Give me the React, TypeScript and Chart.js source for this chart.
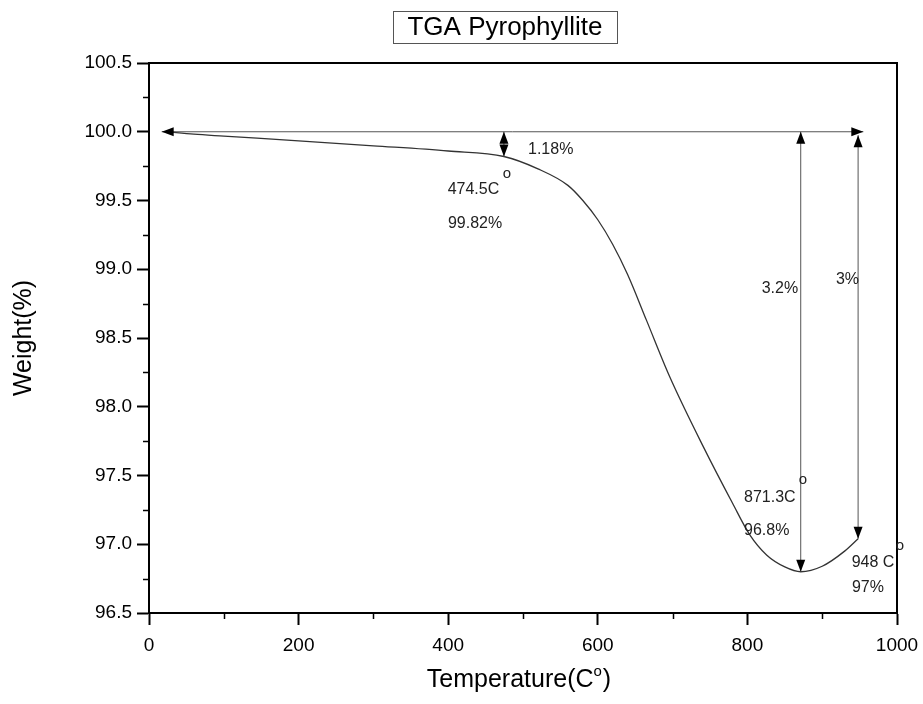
import React, { useEffect, useRef } from "react";
import { Chart, registerables } from "chart.js";

Chart.register(...registerables);

// ---- data ----
const temperatures = [25, 60, 100, 200, 300, 400, 474.5, 520, 560, 580, 600, 620, 640, 665, 696, 741, 780, 803, 826, 850, 871.3, 900, 930, 948];
const weights = [100.0, 99.982, 99.968, 99.934, 99.898, 99.86, 99.82, 99.73, 99.61, 99.5, 99.36, 99.18, 98.96, 98.63, 98.22, 97.71, 97.3, 97.07, 96.92, 96.835, 96.8, 96.84, 96.95, 97.04];

const xMajorTicks = [0, 200, 400, 600, 800, 1000];
const xMinorTicks = [100, 300, 500, 700, 900];
const yMajorTicks = [96.5, 97.0, 97.5, 98.0, 98.5, 99.0, 99.5, 100.0, 100.5];
const yMinorTicks = [96.75, 97.25, 97.75, 98.25, 98.75, 99.25, 99.75, 100.25];

const chartTitle = "TGA Pyrophyllite";
const xTitle = "Temperature(C";
const yTitle = "Weight(%)";

// horizontal reference arrow (double headed) at 100 %
const hArrowFrom = [17, 100.0];
const hArrowTo = [955, 100.0];
// vertical double-headed arrows: temperature, top weight, bottom weight
const vArrowTemps = [474.5, 871.3, 948];
const vArrowTops = [100.0, 100.0, 99.975];
const vArrowBottoms = [99.82, 96.8, 97.04];

// annotation labels: text, temperature, weight (anchor = left baseline)
const labelTexts = ["1.18%", "474.5C", "99.82%", "3.2%", "3%", "871.3C", "96.8%", "948 C", "97%"];
const labelTemps = [506.7, 399.3, 399.7, 819.1, 918.4, 795.5, 795.5, 939.4, 939.8];
const labelWeights = [99.836, 99.547, 99.3, 98.83, 98.89, 97.31, 97.07, 96.837, 96.655];
// small degree "o" marks
const degTemps = [478.6, 874.3, 1004];
const degWeights = [99.685, 97.46, 96.98];

const FONT = '"Liberation Sans", Arial, Helvetica, sans-serif';

function drawHead(ctx: CanvasRenderingContext2D, tx: number, ty: number, fx: number, fy: number) {
  const ang = Math.atan2(ty - fy, tx - fx);
  const len = 12;
  const hw = 4.5;
  ctx.beginPath();
  ctx.moveTo(tx, ty);
  ctx.lineTo(tx - len * Math.cos(ang) + hw * Math.sin(ang), ty - len * Math.sin(ang) - hw * Math.cos(ang));
  ctx.lineTo(tx - len * Math.cos(ang) - hw * Math.sin(ang), ty - len * Math.sin(ang) + hw * Math.cos(ang));
  ctx.closePath();
  ctx.fill();
}

function drawArrow(ctx: CanvasRenderingContext2D, x1: number, y1: number, x2: number, y2: number) {
  ctx.beginPath();
  ctx.moveTo(x1, y1);
  ctx.lineTo(x2, y2);
  ctx.stroke();
  drawHead(ctx, x1, y1, x2, y2);
  drawHead(ctx, x2, y2, x1, y1);
}

const decorPlugin = {
  id: "decor",
  afterDraw(chart: any) {
    const { ctx, chartArea: a, scales } = chart;
    const x = scales.x;
    const y = scales.y;
    ctx.save();

    // frame
    ctx.strokeStyle = "#000";
    ctx.lineWidth = 2;
    ctx.strokeRect(a.left, a.top, a.right - a.left, a.bottom - a.top);

    // minor ticks
    ctx.lineWidth = 1.5;
    ctx.beginPath();
    xMinorTicks.forEach((v) => {
      const px = Math.round(x.getPixelForValue(v)) + 0.5;
      ctx.moveTo(px, a.bottom);
      ctx.lineTo(px, a.bottom + 6);
    });
    yMinorTicks.forEach((v) => {
      const py = Math.round(y.getPixelForValue(v)) + 0.5;
      ctx.moveTo(a.left, py);
      ctx.lineTo(a.left - 6, py);
    });
    ctx.stroke();

    // arrows
    ctx.strokeStyle = "#555";
    ctx.fillStyle = "#000";
    ctx.lineWidth = 1;
    drawArrow(
      ctx,
      x.getPixelForValue(hArrowFrom[0]), y.getPixelForValue(hArrowFrom[1]),
      x.getPixelForValue(hArrowTo[0]), y.getPixelForValue(hArrowTo[1])
    );
    vArrowTemps.forEach((t, i) => {
      const px = x.getPixelForValue(t);
      drawArrow(ctx, px, y.getPixelForValue(vArrowTops[i]), px, y.getPixelForValue(vArrowBottoms[i]));
    });

    // annotation labels
    ctx.fillStyle = "#222";
    ctx.font = `16px ${FONT}`;
    ctx.textAlign = "left";
    ctx.textBaseline = "alphabetic";
    labelTexts.forEach((s, i) => {
      ctx.fillText(s, x.getPixelForValue(labelTemps[i]), y.getPixelForValue(labelWeights[i]));
    });
    ctx.textAlign = "center";
    ctx.textBaseline = "middle";
    ctx.font = `15px ${FONT}`;
    degTemps.forEach((t, i) => {
      ctx.fillText("o", x.getPixelForValue(t), y.getPixelForValue(degWeights[i]) - 1);
    });

    // chart title in box
    ctx.fillStyle = "#000";
    ctx.font = `26px ${FONT}`;
    ctx.textAlign = "center";
    ctx.textBaseline = "middle";
    const cx = 505;
    ctx.fillText(chartTitle, cx, 28);
    ctx.strokeStyle = "#555";
    ctx.lineWidth = 1;
    ctx.strokeRect(393.5, 11.5, 224, 32);

    // x title with superscript
    ctx.textAlign = "left";
    ctx.textBaseline = "alphabetic";
    ctx.font = `25px ${FONT}`;
    const w1 = ctx.measureText(xTitle).width;
    ctx.font = `15px ${FONT}`;
    const w2 = ctx.measureText("o").width;
    ctx.font = `25px ${FONT}`;
    const w3 = ctx.measureText(")").width;
    const total = w1 + w2 + w3 + 1;
    const xc = (a.left + a.right) / 2 - 4;
    let sx = xc - total / 2;
    const base = 687;
    ctx.fillText(xTitle, sx, base);
    sx += w1;
    ctx.font = `15px ${FONT}`;
    ctx.fillText("o", sx, base - 11);
    sx += w2 + 1;
    ctx.font = `25px ${FONT}`;
    ctx.fillText(")", sx, base);

    // y title
    ctx.save();
    ctx.translate(24, (a.top + a.bottom) / 2);
    ctx.rotate(-Math.PI / 2);
    ctx.textAlign = "center";
    ctx.textBaseline = "middle";
    ctx.font = `25px ${FONT}`;
    ctx.fillText(yTitle, 0, 0);
    ctx.restore();

    ctx.restore();
  },
};

export default function App() {
  const ref = useRef<HTMLCanvasElement | null>(null);
  useEffect(() => {
    if (!ref.current) return;
    const points = temperatures.map((t, i) => ({ x: t, y: weights[i] }));
    const chart = new Chart(ref.current, {
      type: "scatter",
      data: {
        datasets: [
          {
            data: points,
            showLine: true,
            borderColor: "#333",
            borderWidth: 1.3,
            pointRadius: 0,
            cubicInterpolationMode: "monotone",
            fill: false,
          },
        ],
      },
      options: {
        responsive: false,
        animation: false,
        devicePixelRatio: 1,
        layout: { padding: { top: 63, right: 26, left: 0, bottom: 0 } },
        plugins: { legend: { display: false }, tooltip: { enabled: false } },
        scales: {
          x: {
            type: "linear",
            min: 0,
            max: 1000,
            afterFit: (s: any) => { s.height = 91; s.paddingLeft = 0; s.paddingRight = 0; },
            afterBuildTicks: (s: any) => { s.ticks = xMajorTicks.map((v) => ({ value: v })); },
            ticks: {
              color: "#000",
              font: { family: FONT, size: 19 },
              padding: 9,
              maxRotation: 0,
              callback: (v: any) => String(v),
            },
            grid: { drawOnChartArea: false, drawTicks: true, tickLength: 12, tickWidth: 2, tickColor: "#000" },
            border: { display: true, color: "#000", width: 2 },
          },
          y: {
            type: "linear",
            min: 96.5,
            max: 100.5,
            afterFit: (s: any) => { s.width = 149; s.paddingTop = 0; s.paddingBottom = 0; },
            afterBuildTicks: (s: any) => { s.ticks = yMajorTicks.map((v) => ({ value: v })); },
            ticks: {
              color: "#000",
              font: { family: FONT, size: 19 },
              padding: 5,
              callback: (v: any) => Number(v).toFixed(1),
            },
            grid: { drawOnChartArea: false, drawTicks: true, tickLength: 12, tickWidth: 2, tickColor: "#000" },
            border: { display: true, color: "#000", width: 2 },
          },
        },
      },
      plugins: [decorPlugin],
    } as any);
    return () => chart.destroy();
  }, []);
  return (
    <div style={{ position: "fixed", left: 0, top: 0, width: 923, height: 704, background: "#fff" }}>
      <canvas ref={ref} width={923} height={704} style={{ display: "block" }} />
    </div>
  );
}
